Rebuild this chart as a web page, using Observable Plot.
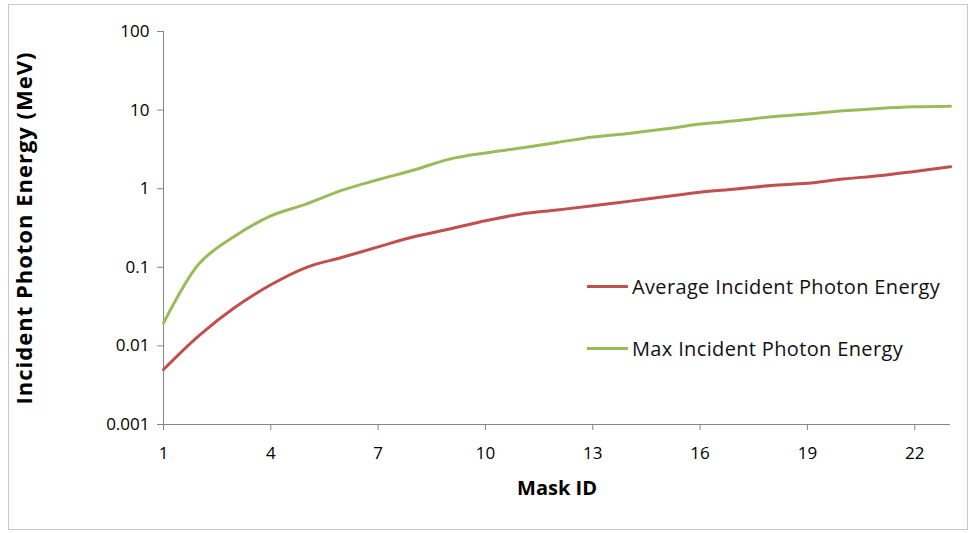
<!DOCTYPE html>
<html>
<head>
<meta charset="utf-8">
<script src="https://cdn.jsdelivr.net/npm/d3@7"></script>
<script src="https://cdn.jsdelivr.net/npm/@observablehq/plot@0.6"></script>
<style>
  html, body { margin: 0; padding: 0; background: #fff; }
  #wrap { position: relative; width: 974px; height: 533px; overflow: hidden; font-family: "Open Sans", Lato, sans-serif; }
  #frame { position: absolute; left: 8px; top: 4px; width: 960px; height: 526px; border: 1px solid #c8c8c8; box-sizing: border-box; pointer-events: none; }
  #chart { position: absolute; left: 0; top: 0; }
  #chart svg g[aria-label="x-axis label"] text { font-weight: bold; font-size: 20px; fill: #000; }
  #chart svg g[aria-label="y-axis label"] text { font-weight: bold; font-size: 22px; letter-spacing: 1px; fill: #000; }
  .legend { position: absolute; left: 587px; font-size: 20px; letter-spacing: 0.35px; color: #111; display: flex; align-items: center; white-space: nowrap; }
  .legend .sw { width: 41px; height: 3px; margin-right: 4px; }
</style>
</head>
<body>
<div id="wrap">
  <div id="frame"></div>
  <div id="chart"></div>
</div>
<script>
const maskId = [1,2,3,4,5,6,7,8,9,10,11,12,13,14,15,16,17,18,19,20,21,22,23];
const avgEnergy = [0.005,0.0136,0.031,0.060,0.100,0.134,0.182,0.245,0.307,0.39,0.477,0.536,0.605,0.69,0.79,0.90,0.99,1.10,1.17,1.33,1.46,1.66,1.90];
const maxEnergy = [0.0195,0.112,0.25,0.45,0.64,0.96,1.30,1.73,2.38,2.85,3.29,3.87,4.55,5.05,5.73,6.64,7.31,8.22,8.9,9.8,10.5,11.0,11.2];
const seriesNames = ["Average Incident Photon Energy", "Max Incident Photon Energy"];
const seriesColors = ["#C0504D", "#9BBB59"];
const yTicks = [0.001, 0.01, 0.1, 1, 10, 100];
const xTicks = [1, 4, 7, 10, 13, 16, 19, 22];

const rows = [];
maskId.forEach((m, i) => {
  rows.push({mask: m, energy: avgEnergy[i], series: seriesNames[0]});
  rows.push({mask: m, energy: maxEnergy[i], series: seriesNames[1]});
});

const axisColor = "#868686";

const chart = Plot.plot({
  width: 974,
  height: 533,
  marginLeft: 163,
  marginRight: 24,
  marginTop: 31,
  marginBottom: 109,
  style: {fontFamily: "'Open Sans', Lato, sans-serif", fontSize: "17px", color: "#000", background: "transparent"},
  x: {type: "linear", domain: [1, 23]},
  y: {type: "log", domain: [0.001, 100]},
  color: {domain: seriesNames, range: seriesColors},
  marks: [
    Plot.ruleX([1], {stroke: axisColor, strokeWidth: 1}),
    Plot.ruleY([0.001], {stroke: axisColor, strokeWidth: 1}),
    Plot.axisY({
      ticks: yTicks,
      tickFormat: d => String(d),
      tickSize: 6,
      tickPadding: 8,
      stroke: axisColor,
      label: "Incident Photon Energy (MeV)",
      labelAnchor: "center",
      labelArrow: "none",
      labelOffset: 147
    }),
    Plot.axisX({
      ticks: xTicks,
      tickFormat: d => String(d),
      tickSize: 6,
      tickPadding: 16,
      stroke: axisColor,
      label: "Mask ID",
      labelAnchor: "center",
      labelArrow: "none",
      labelOffset: 70
    }),
    Plot.line(rows, {
      x: "mask",
      y: "energy",
      z: "series",
      stroke: "series",
      strokeWidth: 3,
      curve: "catmull-rom"
    })
  ]
});
document.getElementById("chart").appendChild(chart);

const wrap = document.getElementById("wrap");
const legendTops = [273, 335];
seriesNames.forEach((name, i) => {
  const el = document.createElement("div");
  el.className = "legend";
  el.style.top = legendTops[i] + "px";
  const sw = document.createElement("span");
  sw.className = "sw";
  sw.style.background = seriesColors[i];
  const tx = document.createElement("span");
  tx.textContent = name;
  el.appendChild(sw);
  el.appendChild(tx);
  wrap.appendChild(el);
});
</script>
</body>
</html>
